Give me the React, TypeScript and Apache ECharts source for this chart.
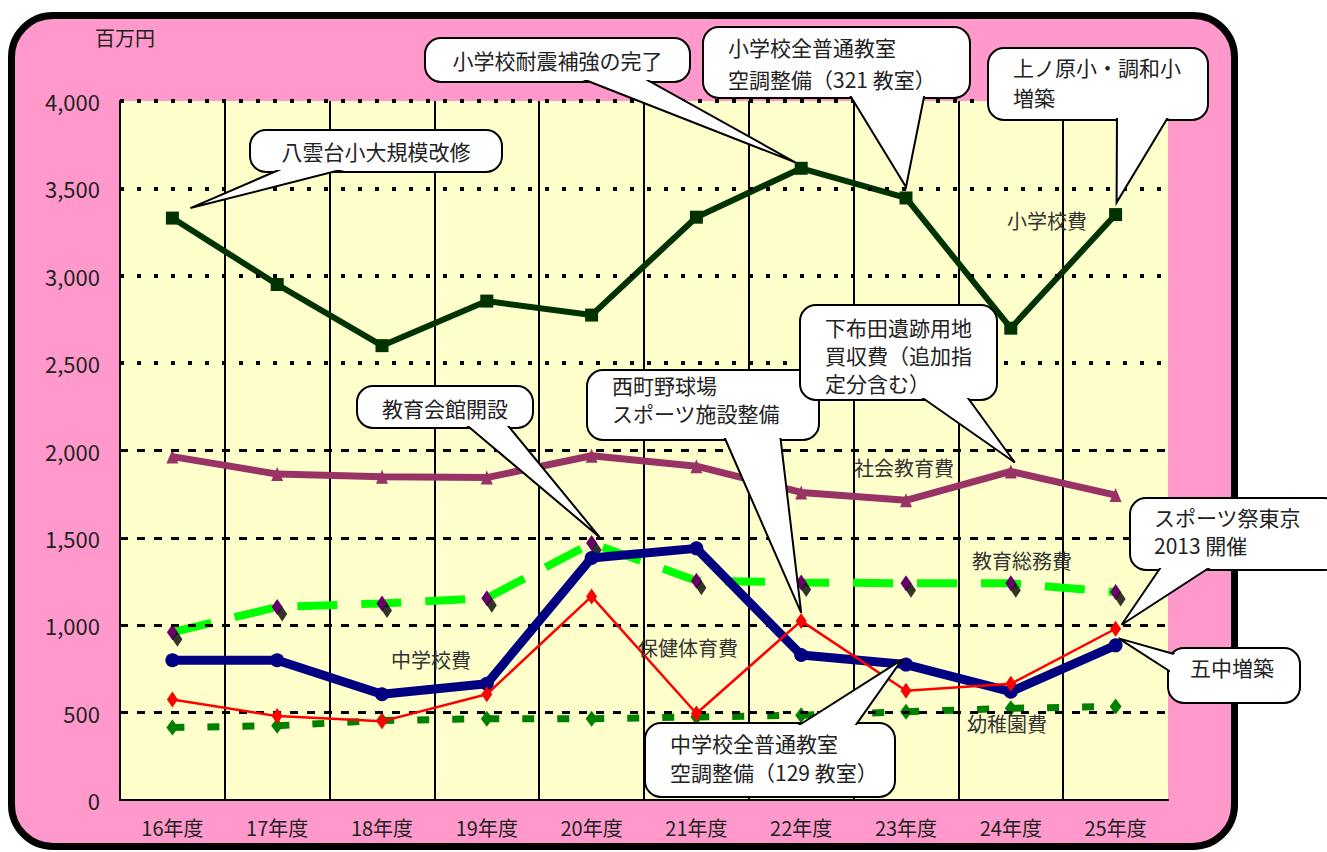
import React, { useEffect, useRef } from "react";
import * as echarts from "echarts";

// ---- data ----
const years = ["16年度", "17年度", "18年度", "19年度", "20年度", "21年度", "22年度", "23年度", "24年度", "25年度"];
const yTicks = [0, 500, 1000, 1500, 2000, 2500, 3000, 3500, 4000];
const elementary = [3330, 2950, 2600, 2855, 2775, 3335, 3615, 3445, 2700, 3350]; // 小学校費
const socialEdu = [1965, 1865, 1850, 1845, 1970, 1910, 1760, 1715, 1880, 1745]; // 社会教育費
const generalAffairs = [960, 1105, 1125, 1155, 1470, 1255, 1245, 1240, 1240, 1190]; // 教育総務費
const juniorHigh = [800, 800, 605, 665, 1385, 1440, 830, 775, 620, 885]; // 中学校費
const healthPE = [575, 480, 450, 605, 1165, 495, 1025, 625, 665, 980]; // 保健体育費
const kindergarten = [415, 425, 455, 465, 465, 475, 485, 505, 525, 535]; // 幼稚園費

const seriesLabels = ["小学校費", "社会教育費", "教育総務費", "中学校費", "保健体育費", "幼稚園費"];

const FONT = '"Noto Sans CJK JP", "Noto Sans", sans-serif';

// ---- layout of annotations (positions only) ----
const labelPos: [number, number][] = [
  [1047, 220],
  [904, 467],
  [1022, 560],
  [431, 659],
  [688, 647],
  [1007, 723],
];

type Callout = {
  lines: string[];
  box: [number, number, number, number];
  base: [[number, number], [number, number]];
  data: number[];
  idx: number;
  offset: [number, number];
  textX?: number;
  textY: number;
  lineHeight?: number;
};

const callouts: Callout[] = [
  { lines: ["八雲台小大規模改修"], box: [250, 130, 252, 42], base: [[288, 166], [356, 166]], data: elementary, idx: 0, offset: [18, -10], textY: 151 },
  { lines: ["小学校耐震補強の完了"], box: [425, 38, 265, 44], base: [[575, 76], [640, 76]], data: elementary, idx: 6, offset: [-6, -6], textY: 60 },
  { lines: ["小学校全普通教室", "空調整備（321 教室）"], box: [703, 27, 267, 71], base: [[848, 92], [925, 92]], data: elementary, idx: 7, offset: [0, -11], textX: 728, textY: 63, lineHeight: 32 },
  { lines: ["上ノ原小・調和小", "増築"], box: [988, 48, 220, 72], base: [[1117, 114], [1170, 114]], data: elementary, idx: 9, offset: [1, -12], textX: 1013, textY: 82, lineHeight: 30 },
  { lines: ["教育会館開設"], box: [357, 386, 176, 42], base: [[463, 422], [505, 422]], data: generalAffairs, idx: 4, offset: [8, -6], textY: 408 },
  { lines: ["西町野球場", "スポーツ施設整備"], box: [587, 370, 232, 70], base: [[723, 434], [780, 434]], data: healthPE, idx: 6, offset: [0, -8], textX: 612, textY: 399, lineHeight: 28 },
  { lines: ["下布田遺跡用地", "買収費（追加指", "定分含む）"], box: [800, 305, 197, 95], base: [[917, 394], [965, 394]], data: socialEdu, idx: 8, offset: [4, -9], textX: 825, textY: 355, lineHeight: 28 },
  { lines: ["スポーツ祭東京", "2013 開催"], box: [1130, 498, 210, 72], base: [[1163, 564], [1215, 564]], data: healthPE, idx: 9, offset: [6, -4], textX: 1154, textY: 531, lineHeight: 28 },
  { lines: ["五中増築"], box: [1168, 648, 132, 55], base: [[1174, 654], [1174, 674]], data: juniorHigh, idx: 9, offset: [3, -7], textX: 1190, textY: 667 },
  { lines: ["中学校全普通教室", "空調整備（129 教室）"], box: [645, 723, 250, 74], base: [[793, 729], [853, 729]], data: juniorHigh, idx: 7, offset: [-4, -5], textX: 670, textY: 757, lineHeight: 29 },
];

export default function App() {
  const ref = useRef<HTMLDivElement>(null);

  useEffect(() => {
    document.body.style.margin = "0";
    const chart = echarts.init(ref.current!, null, { renderer: "svg" });

    const option: any = {
      animation: false,
      backgroundColor: "transparent",
      grid: {
        left: 120,
        right: 159,
        top: 101,
        bottom: 52,
        show: true,
        backgroundColor: "#FFFFCC",
        borderWidth: 0,
      },
      xAxis: {
        type: "category",
        data: years,
        boundaryGap: true,
        axisLine: { lineStyle: { color: "#000", width: 2 } },
        axisTick: { show: false },
        axisLabel: { color: "#222", fontSize: 20, fontFamily: FONT, margin: 17 },
        splitLine: {
          show: true,
          interval: 0,
          showMinLine: false,
          showMaxLine: false,
          lineStyle: { color: "#000", width: 2 },
        },
      },
      yAxis: {
        type: "value",
        min: 0,
        max: 4000,
        interval: 500,
        axisLine: { show: true, lineStyle: { color: "#000", width: 2 } },
        axisTick: { show: false },
        axisLabel: {
          color: "#222",
          fontSize: 22,
          fontFamily: FONT,
          margin: 20,
          formatter: (v: number) => v.toLocaleString("en-US"),
        },
        splitLine: { show: false },
      },
      series: [
        {
          type: "line",
          name: "grid",
          data: [],
          silent: true,
          z: 1,
          markLine: {
            silent: true,
            symbol: ["none", "none"],
            label: { show: false },
            data: yTicks
              .filter((v) => v > 0)
              .map((v) => ({
                yAxis: v,
                lineStyle:
                  v >= 2500
                    ? { color: "#000", width: 4, type: [4, 13] }
                    : { color: "#000", width: 3, type: [8, 9] },
              })),
          },
        },
        {
          name: seriesLabels[5],
          type: "line",
          data: kindergarten,
          z: 2,
          symbol: "diamond",
          symbolSize: [12, 16],
          itemStyle: { color: "#008000" },
          lineStyle: { color: "#008000", width: 7, type: [12, 23] },
        },
        {
          name: seriesLabels[1],
          type: "line",
          data: socialEdu,
          z: 3,
          symbol: "triangle",
          symbolSize: [12, 14],
          itemStyle: { color: "#993366" },
          lineStyle: { color: "#993366", width: 7 },
        },
        {
          name: seriesLabels[0],
          type: "line",
          data: elementary,
          z: 3,
          symbol: "rect",
          symbolSize: 13,
          itemStyle: { color: "#003300" },
          lineStyle: { color: "#003300", width: 6 },
        },
        {
          name: seriesLabels[2],
          type: "line",
          data: generalAffairs,
          z: 4,
          symbol: "diamond",
          symbolSize: [11, 16],
          itemStyle: { color: "#660066" },
          lineStyle: { color: "#00FF00", width: 8, type: [40, 24] },
        },
        {
          name: "shadow",
          type: "scatter",
          data: generalAffairs,
          z: 5,
          symbol: "diamond",
          symbolSize: [10, 15],
          symbolOffset: [5, 7],
          itemStyle: { color: "#000" },
          silent: true,
        },
        {
          name: seriesLabels[3],
          type: "line",
          data: juniorHigh,
          z: 6,
          symbol: "circle",
          symbolSize: 14,
          itemStyle: { color: "#000080" },
          lineStyle: { color: "#000080", width: 9 },
        },
        {
          name: seriesLabels[4],
          type: "line",
          data: healthPE,
          z: 7,
          symbol: "diamond",
          symbolSize: [11, 16],
          itemStyle: { color: "#FF0000" },
          lineStyle: { color: "#FF0000", width: 2.5 },
        },
      ],
    };

    chart.setOption(option);

    const graphics: any[] = [];
    graphics.push({
      type: "text",
      z: 100,
      style: { text: "百万円", x: 125, y: 37, fill: "#222", fontSize: 20, fontFamily: FONT, textAlign: "center", textVerticalAlign: "middle" },
    });
    seriesLabels.forEach((t, i) => {
      graphics.push({
        type: "text",
        z: 100,
        style: { text: t, x: labelPos[i][0], y: labelPos[i][1], fill: "#333", fontSize: 20, fontFamily: FONT, textAlign: "center", textVerticalAlign: "middle" },
      });
    });

    callouts.forEach((c) => {
      const p = chart.convertToPixel({ xAxisIndex: 0, yAxisIndex: 0 }, [c.idx, c.data[c.idx]]) as number[];
      const tip = [p[0] + c.offset[0], p[1] + c.offset[1]];
      const [x, y, w, h] = c.box;
      const r = 16;
      graphics.push({
        type: "rect",
        z: 100,
        shape: { x, y, width: w, height: h, r },
        style: { fill: "#fff", stroke: "#000", lineWidth: 2 },
      });
      graphics.push({
        type: "polygon",
        z: 100,
        shape: { points: [c.base[0], tip, c.base[1]] },
        style: { fill: "#fff", stroke: "#000", lineWidth: 2 },
      });
      graphics.push({
        type: "rect",
        z: 100,
        shape: { x: x + 2, y: y + 2, width: w - 4, height: h - 4, r: r - 2 },
        style: { fill: "#fff", lineWidth: 0 },
      });
      const left = c.textX !== undefined;
      graphics.push({
        type: "text",
        z: 100,
        style: {
          text: c.lines.join("\n"),
          x: left ? c.textX : x + w / 2,
          y: c.textY,
          fill: "#222",
          fontSize: 21,
          fontFamily: FONT,
          lineHeight: c.lineHeight ?? 28,
          textAlign: left ? "left" : "center",
          textVerticalAlign: "middle",
        },
      });
    });

    chart.setOption({ graphic: { elements: graphics } });

    return () => chart.dispose();
  }, []);

  return (
    <div style={{ position: "relative", width: 1327, height: 852, background: "#fff", overflow: "hidden" }}>
      <div
        style={{
          position: "absolute",
          left: 8,
          top: 12,
          width: 1230,
          height: 838,
          boxSizing: "border-box",
          border: "7px solid #000",
          borderRadius: 45,
          background: "#FF99CC",
        }}
      />
      <div ref={ref} style={{ position: "absolute", left: 0, top: 0, width: 1327, height: 852 }} />
    </div>
  );
}
